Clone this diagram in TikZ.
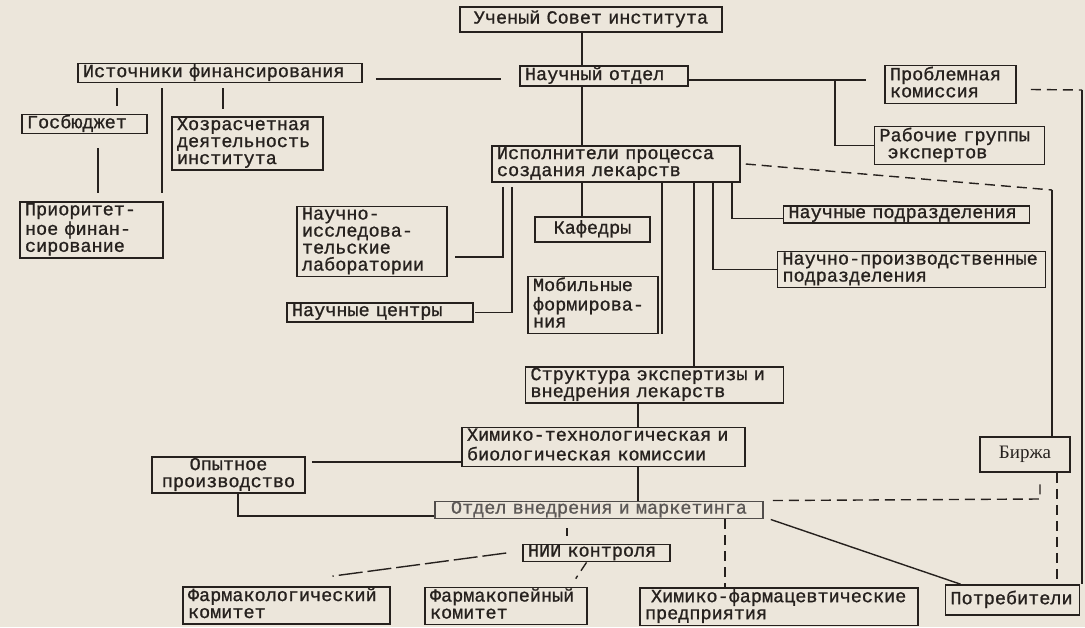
\documentclass[tikz,border=0pt]{standalone}
\usepackage{fontspec}
\newfontfamily\tw[FakeBold=1]{Liberation Mono}
\newfontfamily\serifbirzha{Liberation Serif}
\usepackage{tikz}
\usetikzlibrary{arrows.meta}

\definecolor{paper}{RGB}{236,230,219}
\definecolor{ink}{RGB}{38,33,30}

\begin{document}
\begin{tikzpicture}[x=1pt, y=-1pt, line width=1.4pt, color=ink,
	box/.style={draw=ink, line width=1.5pt, text=ink,
	font=\tw\fontsize{18.5pt}{17pt}\selectfont, align=left,
	inner xsep=5pt, inner ysep=1pt,
	execute at begin node=\strut, execute at end node=\strut},
	dashline/.style={dash pattern=on 10pt off 6pt},
	longdash/.style={dash pattern=on 24pt off 5pt}]
	\fill[paper] (0,0) rectangle (1085,627);
	\useasboundingbox (0,0) rectangle (1085,627);

	\node[box, text width=252pt, minimum height=25pt, align=center] (sovet) at (591,19.5) {Ученый Совет института};
	\node[box, text width=274pt, inner ysep=0pt] (ist) at (220,73) {Источники финансирования};
	\node[box, text width=158pt] (nauch) at (604,76) {Научный отдел};
	\node[box, text width=121pt] (probl) at (950.5,84.5) {Проблемная\\комиссия};
	\node[box, text width=160pt] (rab) at (959.5,145.5) {Рабочие группы\\\hspace*{8pt}экспертов};
	\node[box, text width=115pt, inner ysep=0pt] (gos) at (84.5,124) {Госбюджет};
	\node[box, text width=141pt] (hoz) at (247.5,143.5) {Хозрасчетная\\деятельность\\института};
	\node[box, text width=133pt] (prior) at (91.5,230) {Приоритет-\\ное финан-\\сирование};
	\node[box, text width=140pt] (nil) at (372,241.5) {Научно-\\исследова-\\тельские\\лаборатории};
	\node[box, text width=238pt] (isp) at (616,164) {Исполнители процесса\\создания лекарств};
	\node[box, text width=105pt, align=center, minimum height=25pt] (kaf) at (592.5,229.5) {Кафедры};
	\node[box, text width=120pt] (mob) at (593,305) {Мобильные\\формирова-\\ния};
	\node[box, text width=176pt] (centr) at (380,312.5) {Научные центры};
	\node[box, text width=236pt, inner ysep=0pt] (podr) at (906.5,214.5) {Научные подразделения};
	\node[box, text width=258pt] (nproizv) at (911.5,269.5) {Научно-производственные\\подразделения};
	\node[box, text width=248pt] (strukt) at (654.5,385) {Структура экспертизы и\\внедрения лекарств};
	\node[box, text width=273pt] (himtex) at (603.5,447) {Химико-технологическая и\\биологическая комиссии};
	\node[box, text width=143pt, align=center] (opyt) at (228.5,475) {Опытное\\производство};
	\node[box, text width=318pt, align=center, inner ysep=0pt, draw=ink!80, text=ink!75] (otdel) at (599,510) {Отдел внедрения и маркетинга};
	\node[box, text width=137pt, inner ysep=0pt] (nii) at (596.5,553) {НИИ контроля};
	\node[box, text width=197pt] (farmakol) at (286.5,605.5) {Фармакологический\\комитет};
	\node[box, text width=152pt] (farmakop) at (506,606) {Фармакопейный\\комитет};
	\node[box, text width=268pt] (himfarm) at (779,606.5) {\hspace*{6pt}Химико-фармацевтические\\предприятия};
	\node[box, text width=80pt, align=center, minimum height=35pt, font=\serifbirzha\fontsize{19pt}{17pt}\selectfont] (birzha) at (1025,454.5) {Биржа};
	\node[box, text width=124pt, minimum height=30pt] (potr) at (1012.5,600) {Потребители};

	\coordinate (rabfork) at (835,80);
	\coordinate (prcorner) at (1082,90);
	\coordinate (ispcorner) at (1052,190);
	\coordinate (birzhacorner) at (1040,499);

	\draw (sovet.south -| 582,0) -- (nauch.north -| 582,0);
	\draw (nauch.south -| 582,0) -- (isp.north -| 582,0);
	\draw (isp.south -| 582,0) -- (kaf.north -| 582,0);
	\draw ([xshift=13pt]ist.east |- 0,79) -- ([xshift=-18pt]nauch.west |- 0,79);
	\draw (nauch.east |- 0,80) -- ([xshift=-18pt]probl.west |- 0,80);
	\draw (rabfork) |- (rab.west);
	\draw[shorten <=5pt] (ist.south -| 117,0) -- ([yshift=8pt]gos.north -| 117,0);
	\draw[shorten <=5pt] (ist.south -| 162,0) -- ([yshift=8pt]prior.north -| 162,0);
	\draw[shorten <=5pt] (ist.south -| 223,0) -- ([yshift=7pt]hoz.north -| 223,0);
	\draw ([yshift=-14pt]gos.south -| 98,0) -- ([yshift=8pt]prior.north -| 98,0);

	\draw ([yshift=-4pt]isp.south -| 503,0) |- ([xshift=7pt,yshift=-15.5pt]nil.east);
	\draw ([yshift=-4pt]isp.south -| 512,0) |- ([xshift=1pt]centr.east);
	\draw (isp.south -| 662,0) -- (mob.south -| 662,0);
	\draw (isp.south -| 694,0) -- (strukt.north -| 694,0);
	\draw (isp.south -| 713,0) |- (nproizv.west);
	\draw (isp.south -| 732,0) |- ([yshift=-4pt]podr.west);
	\draw[dashline] ([xshift=5pt]isp.east) -- (ispcorner);
	\draw (ispcorner) -- (birzha.north -| ispcorner);
	\draw[dashline] ([xshift=14pt,yshift=-5pt]probl.east) -- (prcorner);
	\draw (prcorner) -- (potr.north -| prcorner);

	\draw (strukt.south -| 638,0) -- (himtex.north -| 638,0);
	\draw (himtex.south -| 638,0) -- (otdel.north -| 638,0);
	\draw ([xshift=6pt]opyt.east |- 0,462) -- (himtex.west |- 0,462);
	\draw (opyt.south -| 238,0) |- (otdel.west |- 0,516);
	\draw[shorten <=9pt, shorten >=8pt] (otdel.south -| 567,0) -- (nii.north -| 567,0);
	\draw[dashline] (otdel.south -| 725,0) -- (himfarm.north -| 725,0);
	\draw[dashline] ([xshift=9pt]otdel.north east) -- (birzhacorner) -- ([yshift=-7pt]birzha.south -| birzhacorner);
	\draw ([xshift=7pt]otdel.south east) -- ([xshift=16pt]potr.north west);
	\draw[dashline] (birzha.south -| 1057,0) -- (potr.north -| 1057,0);
	\draw[longdash] ([xshift=-16pt]nii.west) -- ([xshift=46pt,yshift=10pt]farmakol.north);
	\draw[dashline] ([xshift=-10pt]nii.south) -- ([xshift=-12pt,yshift=8pt]farmakop.north east);
\end{tikzpicture}
\end{document}
